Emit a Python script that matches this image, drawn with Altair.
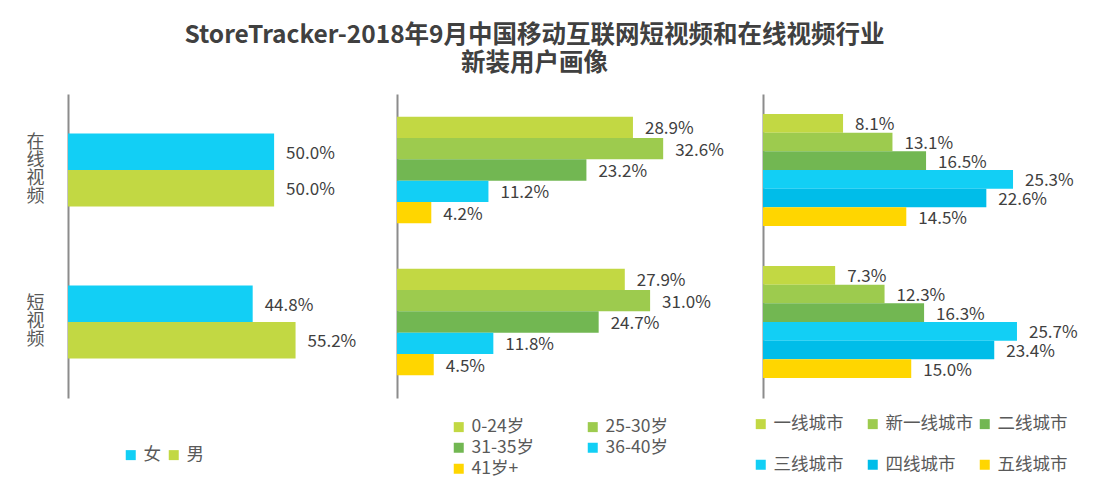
import altair as alt
import pandas as pd

FONT = "Noto Sans CJK SC"

groups = ["在线视频", "短视频"]

gender_series = ["女", "男"]
gender_online = [50.0, 50.0]
gender_short = [44.8, 55.2]
gender_colors = ["#12CFF5", "#C2D843"]

age_series = ["0-24岁", "25-30岁", "31-35岁", "36-40岁", "41岁+"]
age_online = [28.9, 32.6, 23.2, 11.2, 4.2]
age_short = [27.9, 31.0, 24.7, 11.8, 4.5]
age_colors = ["#C2D843", "#9DCB4E", "#72B752", "#12CFF5", "#FFD600"]

city_series = ["一线城市", "新一线城市", "二线城市", "三线城市", "四线城市", "五线城市"]
city_online = [8.1, 13.1, 16.5, 25.3, 22.6, 14.5]
city_short = [7.3, 12.3, 16.3, 25.7, 23.4, 15.0]
city_colors = ["#C2D843", "#9DCB4E", "#72B752", "#12CFF5", "#00BDE9", "#FFD600"]

title_lines = ["StoreTracker-2018年9月中国移动互联网短视频和在线视频行业", "新装用户画像"]


def make_df(series, online, short):
    rows = []
    for s, v in zip(series, online):
        rows.append({"group": groups[0], "series": s, "value": v})
    for s, v in zip(series, short):
        rows.append({"group": groups[1], "series": s, "value": v})
    return pd.DataFrame(rows)


H = 304


def panel(df, series, colors, width, xmax, pad_inner, legend, show_labels):
    if show_labels:
        yaxis = alt.Axis(
            title=None, ticks=False, domain=True, domainColor="#8C8C8C", domainWidth=2,
            labelExpr="split(datum.label, '')", labelFont=FONT, labelFontSize=18,
            labelColor="#595959", labelPadding=24, labelLineHeight=18,
            labelBaseline="middle", labelAngle=0,
            labelOffset={"condition": {"test": "length(datum.label) == 4", "value": -27},
                         "value": -18},
        )
    else:
        yaxis = alt.Axis(
            title=None, ticks=False, labels=False, domain=True,
            domainColor="#8C8C8C", domainWidth=2,
        )
    base = alt.Chart(df).encode(
        y=alt.Y("group:N", sort=groups,
                scale=alt.Scale(paddingInner=pad_inner, paddingOuter=pad_inner / 2),
                axis=yaxis),
        yOffset=alt.YOffset("series:N", sort=series),
        x=alt.X("value:Q", scale=alt.Scale(domain=[0, xmax], nice=False), axis=None),
    )
    bars = base.mark_bar(strokeWidth=0).encode(
        color=alt.Color("series:N", sort=series,
                        scale=alt.Scale(domain=series, range=colors),
                        legend=legend)
    )
    text = base.transform_calculate(
        label="format(datum.value, '.1f') + '%'"
    ).mark_text(align="left", baseline="middle", dx=12, dy=2, fontSize=17,
                font=FONT, color="#404040").encode(text="label:N")
    return alt.layer(bars, text).properties(width=width, height=H)


def leg(x, y, columns, colpad, rowpad):
    return alt.Legend(
        title=None, orient="none", legendX=x, legendY=y, direction="horizontal",
        columns=columns, columnPadding=colpad, rowPadding=rowpad, gridAlign="all",
        symbolType="square", symbolSize=100, symbolStrokeWidth=0,
        labelFont=FONT, labelFontSize=17.5, labelColor="#595959", labelOffset=4,
        padding=0,
    )


p1 = panel(make_df(gender_series, gender_online, gender_short), gender_series,
           gender_colors, 310, 75.2, 0.52, leg(54, 352, 2, 4, 0), True)
p2 = panel(make_df(age_series, age_online, age_short), age_series,
           age_colors, 347, 42.5, 0.30, leg(53, 324, 2, 50, 2), False)
p3 = panel(make_df(city_series, city_online, city_short), city_series,
           city_colors, 336, 34.0, 0.263, leg(-11, 321, 3, 3, 22), False)

chart = alt.hconcat(p1, p2, p3, spacing=19).resolve_scale(
    color="independent", y="independent", x="independent", yOffset="independent"
).properties(
    bounds="flush",
    padding={"left": 18, "top": 14, "right": 5, "bottom": 5},
    title=alt.TitleParams(
        text=title_lines, font=FONT, fontSize=24.5, fontWeight="bold",
        color="#404040", anchor="middle", lineHeight=28, offset=18, dx=-28,
    ),
).configure_view(stroke=None)

chart.save("out.html", embed_options={"renderer": "svg", "actions": False})
